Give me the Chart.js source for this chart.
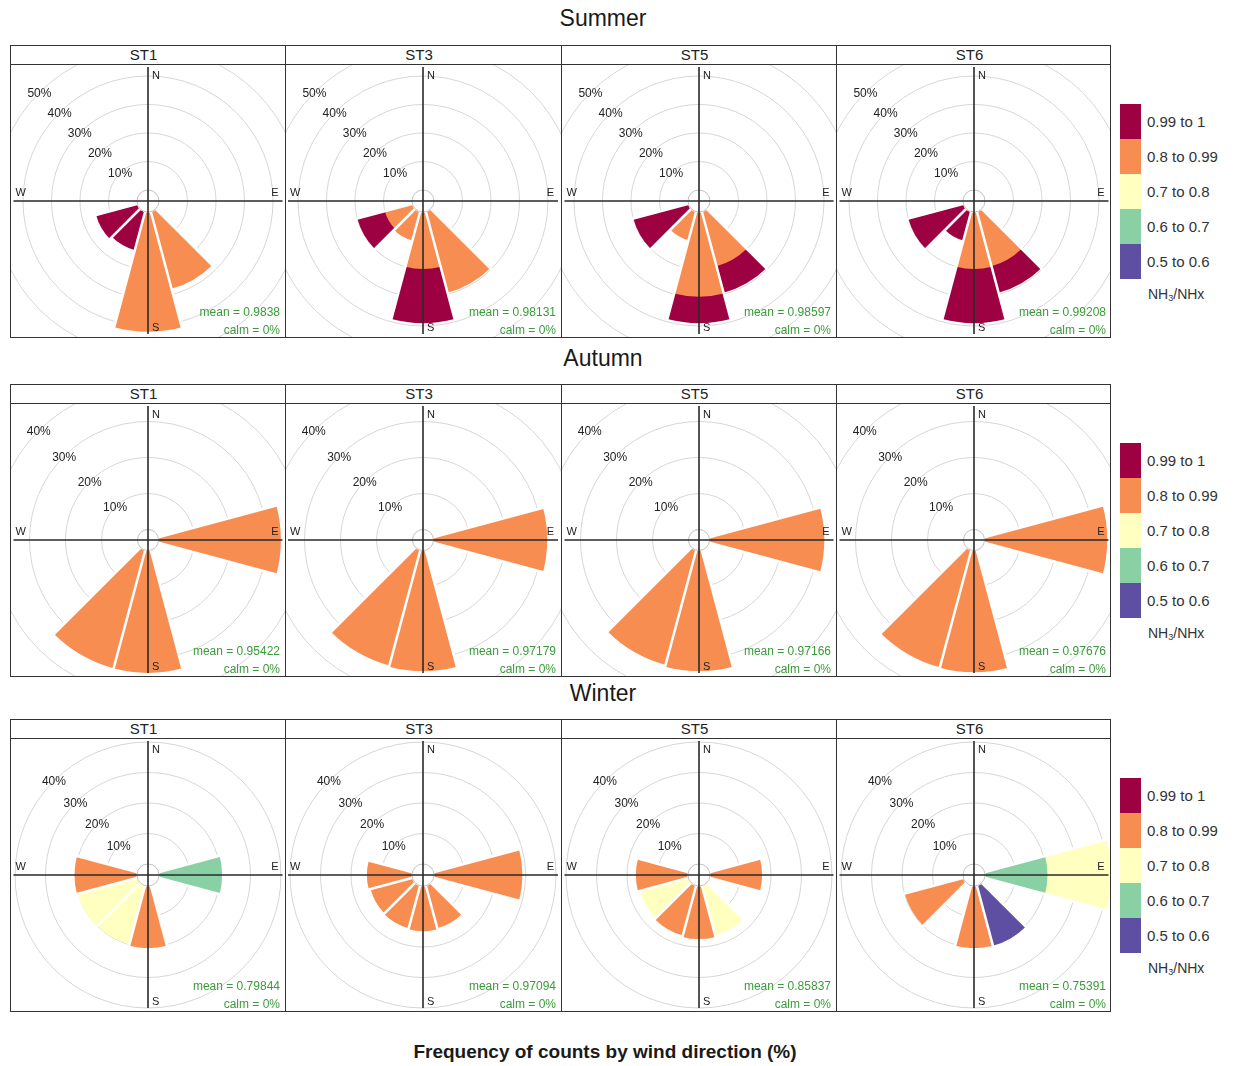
<!DOCTYPE html>
<html>
<head>
<meta charset="utf-8">
<script src="https://cdn.jsdelivr.net/npm/chart.js@4.4.1/dist/chart.umd.min.js"></script>
<style>
  body { margin: 0; background: #fff; font-family: "Liberation Sans", Arial, sans-serif; color: #222; }
  #page { position: relative; width: 1234px; height: 1066px; overflow: hidden; background: #fff; }
  .title { position: absolute; left: 0; width: 1206px; text-align: center; font-size: 23px; line-height: 26px; color: #1a1a1a; }
  .frame { position: absolute; border: 1.5px solid #333; box-sizing: border-box; z-index: 5; }
  .vline { position: absolute; width: 0; border-left: 1.5px solid #333; z-index: 5; }
  .hline { position: absolute; height: 0; border-top: 1.5px solid #333; z-index: 5; }
  .strip { position: absolute; text-align: center; font-size: 15px; line-height: 19px; color: #222; }
  .plot { position: absolute; overflow: hidden; }
  .plot canvas { position: absolute; }
  .stat { position: absolute; right: 5px; color: #3b9b3b; font-size: 12px; line-height: 14px; text-align: right; white-space: nowrap; z-index: 3; }
  .swatch { position: absolute; left: 1120px; width: 21px; }
  .leglab { position: absolute; left: 1147px; font-size: 15px; line-height: 18px; white-space: nowrap; color: #333; }
  .xlab { position: absolute; left: 0; width: 1210px; text-align: center; font-size: 19px; font-weight: bold; color: #1a1a1a; }
</style>
</head>
<body>
<div id="page"></div>
<script>
// wind sectors (degrees, centre of each 30 degree sector)
const directions = [0, 30, 60, 90, 120, 150, 180, 210, 240, 270, 300, 330];
const binLabels = ['0.5 to 0.6', '0.6 to 0.7', '0.7 to 0.8', '0.8 to 0.99', '0.99 to 1'];
const binColors = ['#5E4FA2', '#89D0A5', '#FFFFBF', '#F88D52', '#9E0142'];
const seasons = ['Summer', 'Autumn', 'Winter'];
const stations = ['ST1', 'ST3', 'ST5', 'ST6'];

// ring labels (%)
const summerRings = [10, 20, 30, 40, 50];
const autumnRings = [10, 20, 30, 40];
const winterRings = [10, 20, 30, 40];

const summerMeans = ['0.9838', '0.98131', '0.98597', '0.99208'];
const autumnMeans = ['0.95422', '0.97179', '0.97166', '0.97676'];
const winterMeans = ['0.79844', '0.97094', '0.85837', '0.75391'];
const calmPct = [0, 0, 0, 0];

// frequency (%) by direction; rows = NH3/NHx bins low -> high
const summerST1 = [
  [0, 0, 0, 0, 0, 0, 0, 0, 0, 0, 0, 0],
  [0, 0, 0, 0, 0, 0, 0, 0, 0, 0, 0, 0],
  [0, 0, 0, 0, 0, 0, 0, 0, 0, 0, 0, 0],
  [0, 0, 0, 0, 0, 28, 42, 0, 0, 0, 0, 0],
  [0, 0, 0, 0, 0, 0, 0, 14, 15, 0, 0, 0],
];
const summerST3 = [
  [0, 0, 0, 0, 0, 0, 0, 0, 0, 0, 0, 0],
  [0, 0, 0, 0, 0, 0, 0, 0, 0, 0, 0, 0],
  [0, 0, 0, 0, 0, 0, 0, 0, 0, 0, 0, 0],
  [0, 0, 0, 0, 0, 29.5, 20, 10.5, 10, 0, 0, 0],
  [0, 0, 0, 0, 0, 0, 19, 0, 10, 0, 0, 0],
];
const summerST5 = [
  [0, 0, 0, 0, 0, 0, 0, 0, 0, 0, 0, 0],
  [0, 0, 0, 0, 0, 0, 0, 0, 0, 0, 0, 0],
  [0, 0, 0, 0, 0, 0, 0, 0, 0, 0, 0, 0],
  [0, 0, 0, 0, 0, 19.8, 29.7, 10.4, 0, 0, 0, 0],
  [0, 0, 0, 0, 0, 9.7, 9.3, 0, 20, 0, 0, 0],
];
const summerST6 = [
  [0, 0, 0, 0, 0, 0, 0, 0, 0, 0, 0, 0],
  [0, 0, 0, 0, 0, 0, 0, 0, 0, 0, 0, 0],
  [0, 0, 0, 0, 0, 0, 0, 0, 0, 0, 0, 0],
  [0, 0, 0, 0, 0, 19.8, 20, 0, 0, 0, 0, 0],
  [0, 0, 0, 0, 0, 9.7, 19, 10.5, 20, 0, 0, 0],
];
const autumnST1 = [
  [0, 0, 0, 0, 0, 0, 0, 0, 0, 0, 0, 0],
  [0, 0, 0, 0, 0, 0, 0, 0, 0, 0, 0, 0],
  [0, 0, 0, 0, 0, 0, 0, 0, 0, 0, 0, 0],
  [0, 0, 0, 34, 0, 0, 34, 34, 0, 0, 0, 0],
  [0, 0, 0, 0, 0, 0, 0, 0, 0, 0, 0, 0],
];
const autumnST3 = [
  [0, 0, 0, 0, 0, 0, 0, 0, 0, 0, 0, 0],
  [0, 0, 0, 0, 0, 0, 0, 0, 0, 0, 0, 0],
  [0, 0, 0, 0, 0, 0, 0, 0, 0, 0, 0, 0],
  [0, 0, 0, 31.6, 0, 0, 33.5, 33.2, 0, 0, 0, 0],
  [0, 0, 0, 0, 0, 0, 0, 0, 0, 0, 0, 0],
];
const autumnST5 = [
  [0, 0, 0, 0, 0, 0, 0, 0, 0, 0, 0, 0],
  [0, 0, 0, 0, 0, 0, 0, 0, 0, 0, 0, 0],
  [0, 0, 0, 0, 0, 0, 0, 0, 0, 0, 0, 0],
  [0, 0, 0, 31.9, 0, 0, 33.5, 33, 0, 0, 0, 0],
  [0, 0, 0, 0, 0, 0, 0, 0, 0, 0, 0, 0],
];
const autumnST6 = [
  [0, 0, 0, 0, 0, 0, 0, 0, 0, 0, 0, 0],
  [0, 0, 0, 0, 0, 0, 0, 0, 0, 0, 0, 0],
  [0, 0, 0, 0, 0, 0, 0, 0, 0, 0, 0, 0],
  [0, 0, 0, 34.1, 0, 0, 33.8, 33.7, 0, 0, 0, 0],
  [0, 0, 0, 0, 0, 0, 0, 0, 0, 0, 0, 0],
];
const winterST1 = [
  [0, 0, 0, 0, 0, 0, 0, 0, 0, 0, 0, 0],
  [0, 0, 0, 20.7, 0, 0, 0, 0, 0, 0, 0, 0],
  [0, 0, 0, 0, 0, 0, 0, 20, 20.2, 0, 0, 0],
  [0, 0, 0, 0, 0, 0, 20.4, 0, 0, 20.5, 0, 0],
  [0, 0, 0, 0, 0, 0, 0, 0, 0, 0, 0, 0],
];
const winterST3 = [
  [0, 0, 0, 0, 0, 0, 0, 0, 0, 0, 0, 0],
  [0, 0, 0, 0, 0, 0, 0, 0, 0, 0, 0, 0],
  [0, 0, 0, 0, 0, 0, 0, 0, 0, 0, 0, 0],
  [0, 0, 0, 29, 0, 14.5, 14.8, 14.5, 14.2, 14.8, 0, 0],
  [0, 0, 0, 0, 0, 0, 0, 0, 0, 0, 0, 0],
];
const winterST5 = [
  [0, 0, 0, 0, 0, 0, 0, 0, 0, 0, 0, 0],
  [0, 0, 0, 0, 0, 0, 0, 0, 0, 0, 0, 0],
  [0, 0, 0, 0, 0, 16.9, 0, 0, 16.4, 0, 0, 0],
  [0, 0, 0, 17.1, 0, 0, 17.4, 16.9, 0, 17.1, 0, 0],
  [0, 0, 0, 0, 0, 0, 0, 0, 0, 0, 0, 0],
];
const winterST6 = [
  [0, 0, 0, 0, 0, 20.4, 0, 0, 0, 0, 0, 0],
  [0, 0, 0, 20.5, 0, 0, 0, 0, 0, 0, 0, 0],
  [0, 0, 0, 20.8, 0, 0, 0, 0, 0, 0, 0, 0],
  [0, 0, 0, 0, 0, 0, 20.4, 0, 19.9, 0, 0, 0],
  [0, 0, 0, 0, 0, 0, 0, 0, 0, 0, 0, 0],
];

const freqs = {
  Summer: [summerST1, summerST3, summerST5, summerST6],
  Autumn: [autumnST1, autumnST3, autumnST5, autumnST6],
  Winter: [winterST1, winterST3, winterST5, winterST6],
};
const means = {Summer: summerMeans, Autumn: autumnMeans, Winter: winterMeans};
const rings = {Summer: summerRings, Autumn: autumnRings, Winter: winterRings};

// layout
const FRAME_L = 10;
const FRAME_R = 1111;
const STRIP_H = 19;
const PLOT_H = 274;
const CANVAS = 400;
const rowTop = {Summer: 45, Autumn: 384, Winter: 719};
const titleY = {Summer: 5, Autumn: 345, Winter: 680};
const legendTop = {Summer: 104, Autumn: 443, Winter: 778};
// radial scale per season: pixels per percent and radius of the calm circle
const seasonScale = {
  Summer: {pxPerPct: 2.85, calmPx: 11},
  Autumn: {pxPerPct: 3.6, calmPx: 10.5},
  Winter: {pxPerPct: 3.05, calmPx: 11},
};
const FONT = '"Liberation Sans", Arial, sans-serif';

const page = document.getElementById('page');

function el(cls, style, html) {
  const d = document.createElement('div');
  if (cls) d.className = cls;
  Object.assign(d.style, style);
  if (html !== undefined) d.innerHTML = html;
  page.appendChild(d);
  return d;
}

// draws calm circle, sector gaps, the N-S / W-E cross and labels
function makeDecor(totals, ringList, plotW, plotH) {
  return {
    id: 'roseDecor',
    afterDatasetsDraw(chart) {
      const s = chart.scales.r;
      const ctx = chart.ctx;
      const cx = s.xCenter;
      const cy = s.yCenter;
      const r0 = s.getDistanceFromCenterForValue(0);
      ctx.save();
      // white gaps between neighbouring sectors
      ctx.strokeStyle = '#fff';
      ctx.lineWidth = 2.5;
      totals.forEach((t, i) => {
        const reach = Math.max(t, totals[(i + 1) % totals.length]);
        if (!reach) return;
        const a = s.getIndexAngle(i + 1) - Math.PI / 2;
        const len = s.getDistanceFromCenterForValue(reach) + 2;
        ctx.beginPath();
        ctx.moveTo(cx, cy);
        ctx.lineTo(cx + Math.cos(a) * len, cy + Math.sin(a) * len);
        ctx.stroke();
      });
      // calm circle
      ctx.fillStyle = '#fff';
      ctx.beginPath();
      ctx.arc(cx, cy, r0 + 0.6, 0, Math.PI * 2);
      ctx.fill();
      ctx.strokeStyle = '#c4c4c4';
      ctx.lineWidth = 1;
      ctx.beginPath();
      ctx.arc(cx, cy, r0, 0, Math.PI * 2);
      ctx.stroke();
      // axes cross
      const hw = plotW / 2;
      const hh = plotH / 2;
      ctx.strokeStyle = '#2a2a2a';
      ctx.lineWidth = 1.6;
      ctx.beginPath();
      ctx.moveTo(cx - hw + 3, cy);
      ctx.lineTo(cx + hw - 3, cy);
      ctx.moveTo(cx, cy - hh + 3);
      ctx.lineTo(cx, cy + hh - 4);
      ctx.stroke();
      // compass letters
      ctx.fillStyle = '#222';
      ctx.font = '11px ' + FONT;
      ctx.textBaseline = 'middle';
      ctx.textAlign = 'left';
      ctx.fillText('N', cx + 4, cy - hh + 12);
      ctx.fillText('S', cx + 4, cy + hh - 10);
      ctx.fillText('W', cx - hw + 5, cy - 8);
      ctx.textAlign = 'right';
      ctx.fillText('E', cx + hw - 7, cy - 8);
      // ring labels along 315 degrees
      ctx.font = '12px ' + FONT;
      ctx.textAlign = 'center';
      ringList.forEach((v) => {
        const d = s.getDistanceFromCenterForValue(v) * Math.SQRT1_2;
        ctx.fillText(v + '%', cx - d, cy - d + 1);
      });
      ctx.restore();
    },
  };
}

function drawRose(parent, freq, season, plotW, plotH) {
  const sc = seasonScale[season];
  const ringList = rings[season];
  const maxRing = ringList[ringList.length - 1];
  const min = -sc.calmPx / sc.pxPerPct;
  const max = min + (CANVAS / 2) / sc.pxPerPct;

  const totals = directions.map((d, i) => freq.reduce((s, row) => s + row[i], 0));
  // each bin is drawn as its cumulative total; lower bins are painted on top
  const datasets = binLabels.map((lab, b) => ({
    label: lab,
    data: directions.map((d, i) => {
      if (!freq[b][i]) return 0;
      let s = 0;
      for (let k = 0; k <= b; k++) s += freq[k][i];
      return s;
    }),
    backgroundColor: binColors[b],
    borderWidth: 0,
  }));

  const cv = document.createElement('canvas');
  cv.width = CANVAS;
  cv.height = CANVAS;
  cv.style.width = CANVAS + 'px';
  cv.style.height = CANVAS + 'px';
  cv.style.left = Math.round(plotW / 2 - CANVAS / 2) + 'px';
  cv.style.top = Math.round(plotH / 2 - CANVAS / 2) + 'px';
  parent.appendChild(cv);

  new Chart(cv, {
    type: 'polarArea',
    data: {labels: directions.map((d) => d + '°'), datasets: datasets},
    options: {
      responsive: false,
      animation: false,
      events: [],
      layout: {padding: 0},
      plugins: {legend: {display: false}, tooltip: {enabled: false}},
      scales: {
        r: {
          min: min,
          max: max,
          startAngle: -15,
          ticks: {display: false, stepSize: 10, includeBounds: false},
          grid: {
            circular: true,
            lineWidth: 1,
            color: (c) => {
              const v = c.tick ? c.tick.value : 0;
              return (v > 0.5 && v <= maxRing + 0.5) ? '#d6d6d6' : 'rgba(0,0,0,0)';
            },
          },
          angleLines: {display: false},
          pointLabels: {display: false},
        },
      },
    },
    plugins: [makeDecor(totals, ringList, plotW, plotH)],
  });
}

const colX = [0, 1, 2, 3, 4].map((i) => Math.round(FRAME_L + i * (FRAME_R - FRAME_L) / 4));

seasons.forEach((season) => {
  const top = rowTop[season];
  el('title', {top: titleY[season] + 'px'}, season);
  el('frame', {left: FRAME_L + 'px', top: top + 'px', width: (FRAME_R - FRAME_L) + 'px', height: (STRIP_H + PLOT_H) + 'px'});
  el('hline', {left: FRAME_L + 'px', top: (top + STRIP_H) + 'px', width: (FRAME_R - FRAME_L) + 'px'});

  stations.forEach((st, i) => {
    const x0 = colX[i];
    const w = colX[i + 1] - x0;
    if (i > 0) el('vline', {left: x0 + 'px', top: top + 'px', height: (STRIP_H + PLOT_H) + 'px'});
    el('strip', {left: (x0 - 4) + 'px', top: top + 'px', width: w + 'px', height: STRIP_H + 'px'}, st);
    const plot = el('plot', {left: x0 + 'px', top: (top + STRIP_H) + 'px', width: w + 'px', height: PLOT_H + 'px'});
    drawRose(plot, freqs[season][i], season, w, PLOT_H);
    const m = document.createElement('div');
    m.className = 'stat';
    m.style.bottom = '19px';
    m.textContent = 'mean = ' + means[season][i];
    plot.appendChild(m);
    const c = document.createElement('div');
    c.className = 'stat';
    c.style.bottom = '1px';
    c.textContent = 'calm = ' + calmPct[i] + '%';
    plot.appendChild(c);
  });

  // legend, highest bin on top
  const lt = legendTop[season];
  const sw = 35;
  for (let k = binLabels.length - 1, j = 0; k >= 0; k--, j++) {
    el('swatch', {top: (lt + j * sw) + 'px', height: sw + 'px', background: binColors[k]});
    el('leglab', {top: (lt + j * sw + sw / 2 - 9) + 'px'}, binLabels[k]);
  }
  el('leglab', {top: (lt + 5 * sw + 6) + 'px', fontSize: '14px', left: '1148px'}, 'NH<sub style="font-size:9px;vertical-align:-2px">3</sub>/NHx');
});

el('xlab', {top: '1041px'}, 'Frequency of counts by wind direction (%)');
</script>
</body>
</html>
